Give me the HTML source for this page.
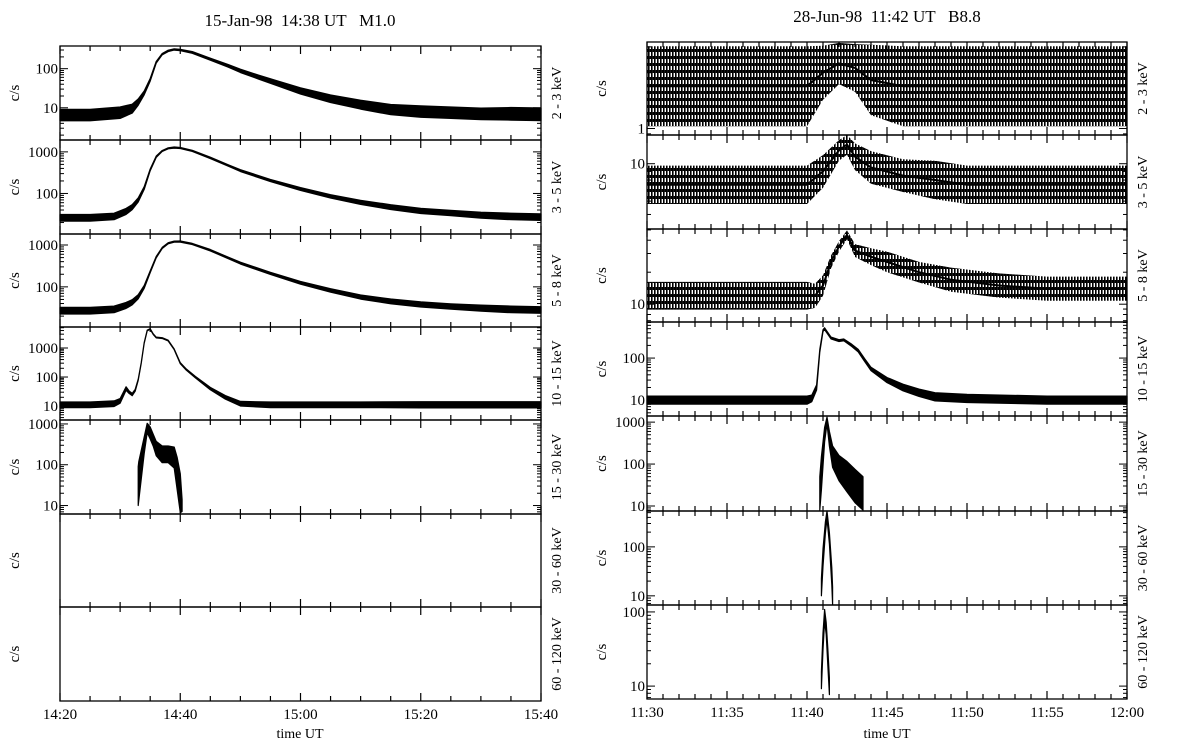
<!DOCTYPE html>
<html><head><meta charset="utf-8">
<style>
html,body{margin:0;padding:0;background:#fff;}
svg{display:block;font-family:"Liberation Serif",serif;}
</style></head>
<body>
<svg id="chart" width="1178" height="746" viewBox="0 0 1178 746" xmlns="http://www.w3.org/2000/svg">
<defs>
<pattern id="noise" patternUnits="userSpaceOnUse" width="3" height="7">
<rect x="0" y="0" width="1.6" height="7" fill="#000"/>
<rect x="1.6" y="0" width="1.4" height="3" fill="#000"/>
</pattern>
</defs>
<text x="300" y="26" font-size="17" text-anchor="middle" xml:space="preserve">15-Jan-98  14:38 UT   M1.0</text>
<text x="887" y="22" font-size="17" text-anchor="middle" xml:space="preserve">28-Jun-98  11:42 UT   B8.8</text>
<text x="300" y="738" font-size="14" text-anchor="middle">time UT</text>
<text x="887" y="738" font-size="14" text-anchor="middle">time UT</text>
</svg>
<script>
// ---- data (minutes from start, count rates c/s) ----
const leftTickLabels = ["14:20","14:40","15:00","15:20","15:40"];
const rightTickLabels = ["11:30","11:35","11:40","11:45","11:50","11:55","12:00"];
const bandLabels = ["2 - 3 keV","3 - 5 keV","5 - 8 keV","10 - 15 keV","15 - 30 keV","30 - 60 keV","60 - 120 keV"];

const L1t = [0,5,10,12,13,14,15,16,17,18,19,20,22,25,28,30,33,36,40,45,50,55,60,65,70,75,80];
const L1m = [6.5,6.5,7.5,9.5,14,24,52,145,235,285,310,300,260,175,118,88,61,43,27,17,12,9,8,7.5,7,7,6.8];
const L1f = [1.4,1.4,1.4,1.3,1.2,1.12,1.08,1.05,1.04,1.04,1.04,1.04,1.05,1.06,1.08,1.1,1.12,1.15,1.2,1.25,1.3,1.35,1.4,1.4,1.4,1.45,1.45];

const L2t = [0,5,9,11,12,13,14,15,16,17,18,19,20,22,25,28,30,35,40,45,50,55,60,65,70,75,80];
const L2m = [26,26,28,37,47,70,135,370,760,1050,1220,1270,1240,1060,715,470,355,205,128,85,61,47,38,34,30,28,27];
const L2f = [1.2,1.2,1.2,1.18,1.15,1.12,1.08,1.05,1.04,1.03,1.03,1.03,1.03,1.03,1.04,1.04,1.05,1.06,1.08,1.1,1.12,1.14,1.15,1.16,1.18,1.2,1.2];

const L3t = [0,5,9,11,12,13,14,15,16,17,18,19,20,22,25,28,30,35,40,45,50,55,60,65,70,75,80];
const L3m = [27,27,29,36,43,58,100,230,510,850,1100,1200,1210,1060,750,490,370,210,125,82,57,45,38,34,31,29,28];
const L3f = [1.2,1.2,1.2,1.18,1.15,1.12,1.08,1.05,1.04,1.03,1.03,1.03,1.03,1.03,1.04,1.04,1.05,1.06,1.08,1.1,1.12,1.14,1.15,1.16,1.18,1.2,1.2];

const L4t = [0,5,9,10,11,11.5,12,12.5,13,13.5,14,14.5,15,15.5,16,17,18,19,20,21,22.5,25,27.5,30,35,40,50,60,70,80];
const L4m = [11,11,12,15,40,30,25,35,80,300,1500,4000,4500,3000,2300,2200,1800,900,300,180,100,40,20,12,11,11,11,11,11,11];
const L4f = [1.25,1.25,1.25,1.2,1.15,1.1,1.1,1.08,1.05,1.04,1.03,1.03,1.03,1.03,1.03,1.03,1.03,1.03,1.04,1.05,1.06,1.1,1.15,1.2,1.25,1.25,1.25,1.28,1.28,1.28];

const L5t = [13,13.1,14,14.5,15,15.5,16,17,18,19,19.5,20,20.3];
const L5m = [30,40,300,800,600,400,250,180,180,150,60,20,10];
const L5f = [3,3,1.6,1.3,1.4,1.4,1.5,1.6,1.6,1.8,2.5,3,1.4];

const R1t = [0,5,10,11,12,13,14,16,20,25,30];
const R1m = [2.3,2.3,2.3,3,3.6,3.3,2.6,2.3,2.3,2.3,2.3];
const R1f = [2.2,2.2,2.2,1.7,1.5,1.6,2.0,2.2,2.2,2.2,2.2];

const R2t = [0,5,10,11,12,12.5,13,14,16,18,20,25,30];
const R2m = [7.5,7.5,7.5,9,12,13,11,9.5,8.5,8,7.5,7.5,7.5];
const R2f = [1.3,1.3,1.3,1.25,1.15,1.15,1.2,1.25,1.25,1.3,1.3,1.3,1.3];

const R3t = [0,5,10,10.5,11,11.5,12,12.5,13,14,15,17,19,22,25,30];
const R3m = [12,12,12,12,15,25,35,45,32,28,25,20,17,15,14,14];
const R3f = [1.35,1.35,1.35,1.3,1.25,1.15,1.12,1.1,1.15,1.2,1.25,1.25,1.3,1.3,1.3,1.3];

const R4t = [0,5,10,10.3,10.6,10.8,11,11.1,11.5,12,12.3,12.8,13.2,13.6,14,15,16,17,18,20,25,30];
const R4m = [10,10,10,11,20,150,450,500,300,260,270,200,150,90,55,30,20,15,12,11,10,10];
const R4f = [1.25,1.25,1.25,1.2,1.15,1.08,1.05,1.05,1.05,1.05,1.05,1.06,1.07,1.08,1.1,1.15,1.2,1.22,1.25,1.25,1.25,1.25];

const R5t = [10.8,10.9,11.1,11.25,11.4,11.6,12,12.5,13,13.5];
const R5m = [20,60,500,1100,400,150,80,50,30,20];
const R5f = [2.5,2.5,1.5,1.2,1.5,1.8,2,2.3,2.5,2.5];

const R6t = [10.9,11,11.15,11.25,11.4,11.55,11.6];
const R6m = [15,60,250,450,150,25,10];
const R6f = [1.5,1.5,1.3,1.2,1.3,1.5,1.5];

const R7t = [10.9,11,11.1,11.2,11.3,11.4];
const R7m = [12,40,90,60,25,10];
const R7f = [1.3,1.3,1.2,1.2,1.3,1.3];

const leftSeries = [[L1t,L1m,L1f],[L2t,L2m,L2f],[L3t,L3m,L3f],[L4t,L4m,L4f],[L5t,L5m,L5f],null,null];
const rightSeries = [[R1t,R1m,R1f],[R2t,R2m,R2f],[R3t,R3m,R3f],[R4t,R4m,R4f],[R5t,R5m,R5f],[R6t,R6m,R6f],[R7t,R7m,R7f]];
const leftRanges = [[1.5,380],[10.6,1930],[11,1830],[3.3,5300],[6.2,1250],null,null];
const rightRanges = [[0.88,5.5],[4.1,14.8],[6.8,51],[4.2,720],[7.6,1400],[6.5,540],[6.7,124]];
// fill style per panel (visual only)
const leftFill = ["#000","#000","#000","#000","#000",null,null];
const rightFill = ["url(#noise)","url(#noise)","url(#noise)","#000","#000","#000","#000"];

// ---- drawing ----
const NS = "http://www.w3.org/2000/svg";
const svg = document.getElementById("chart");
function mk(tag, attrs, parent){
  const e = document.createElementNS(NS, tag);
  for (const k in attrs) e.setAttribute(k, attrs[k]);
  (parent||svg).appendChild(e);
  return e;
}

function drawPlot(side, x0, x1, bounds, tmax, majorStep, minorStep, tickLabels, series, ranges, fills){
  const xs = t => x0 + (x1 - x0) * t / tmax;
  const g = mk("g", {});
  
  
  for (let i = 0; i < 7; i++){
    const top = bounds[i], bot = bounds[i+1];
    const pg = mk("g", {}, g);
    
    
    const rng = ranges[i];
    const ys = v => bot - (bot - top) * (Math.log10(v) - Math.log10(rng[0])) / (Math.log10(rng[1]) - Math.log10(rng[0]));
    if (series[i] && rng){
      const [t, m, f] = series[i];
      const clamp = y => Math.max(top, Math.min(bot, y));
      let pts = [];
      for (let k = 0; k < t.length; k++) pts.push(xs(t[k]).toFixed(1) + "," + clamp(ys(m[k]*f[k])).toFixed(1));
      for (let k = t.length-1; k >= 0; k--) pts.push(xs(t[k]).toFixed(1) + "," + clamp(ys(m[k]/f[k])).toFixed(1));
      const solid = fills[i] === "#000";
      const poly = mk("polygon", {points: pts.join(" "), fill: fills[i], stroke: solid ? "#000" : "none", "stroke-width": 1.2, "stroke-linejoin": "round"}, pg);
      
      
      if (!solid){
        let mid = [];
        for (let k = 0; k < t.length; k++) mid.push(xs(t[k]).toFixed(1) + "," + clamp(ys(m[k])).toFixed(1));
        const pl = mk("polyline", {points: mid.join(" "), fill: "none", stroke: "#000", "stroke-width": 2}, pg);
        
        
      }
    }
    const fr = mk("rect", {x: x0, y: top, width: x1 - x0, height: bot - top, fill: "none", stroke: "#000", "stroke-width": 1.3}, pg);
    
    
    for (let t = 0; t <= tmax + 1e-9; t += minorStep){
      const major = Math.abs(t / majorStep - Math.round(t / majorStep)) < 1e-6;
      const len = major ? 8 : 5;
      const x = xs(t);
      mk("line", {x1: x, x2: x, y1: top, y2: top + len, stroke: "#000", "stroke-width": 1.2}, pg);
      mk("line", {x1: x, x2: x, y1: bot, y2: bot - len, stroke: "#000", "stroke-width": 1.2}, pg);
    }
    if (rng){
      const lo = Math.floor(Math.log10(rng[0])), hi = Math.ceil(Math.log10(rng[1]));
      for (let d = lo; d <= hi; d++){
        for (let mm = 1; mm <= 9; mm++){
          const v = mm * Math.pow(10, d);
          if (v < rng[0] || v > rng[1]) continue;
          const y = ys(v);
          const len = mm === 1 ? 8 : 4;
          mk("line", {x1: x0, x2: x0 + len, y1: y, y2: y, stroke: "#000", "stroke-width": 1}, pg);
          mk("line", {x1: x1, x2: x1 - len, y1: y, y2: y, stroke: "#000", "stroke-width": 1}, pg);
          if (mm === 1){
            const lab = mk("text", {x: x0 - 2, y: y + 5, "font-size": 15, "text-anchor": "end"}, pg);
            lab.textContent = String(v);
            
            
          }
        }
      }
    }
    const cy = (top + bot) / 2;
    const cs = mk("text", {x: 0, y: 0, "font-size": 15, "text-anchor": "middle", transform: `translate(${x0 - 41},${cy}) rotate(-90)`}, pg);
    cs.textContent = "c/s";
    
    
    const bl = mk("text", {x: 0, y: 0, "font-size": 14, "text-anchor": "middle", transform: `translate(${x1 + 20},${cy}) rotate(-90)`}, pg);
    bl.textContent = bandLabels[i];
    
    
  }
  for (let k = 0; k < tickLabels.length; k++){
    const tl = mk("text", {x: xs(k * majorStep), y: bounds[7] + 18, "font-size": 15, "text-anchor": "middle"}, g);
    tl.textContent = tickLabels[k];
    
    
  }
}

drawPlot("left", 60, 541, [46,140,234,327,420,514,607,701], 80, 20, 5, leftTickLabels, leftSeries, leftRanges, leftFill);
drawPlot("right", 647, 1127, [42,135,229,322,416,511,605,699], 30, 5, 1, rightTickLabels, rightSeries, rightRanges, rightFill);
</script>
</body></html>
